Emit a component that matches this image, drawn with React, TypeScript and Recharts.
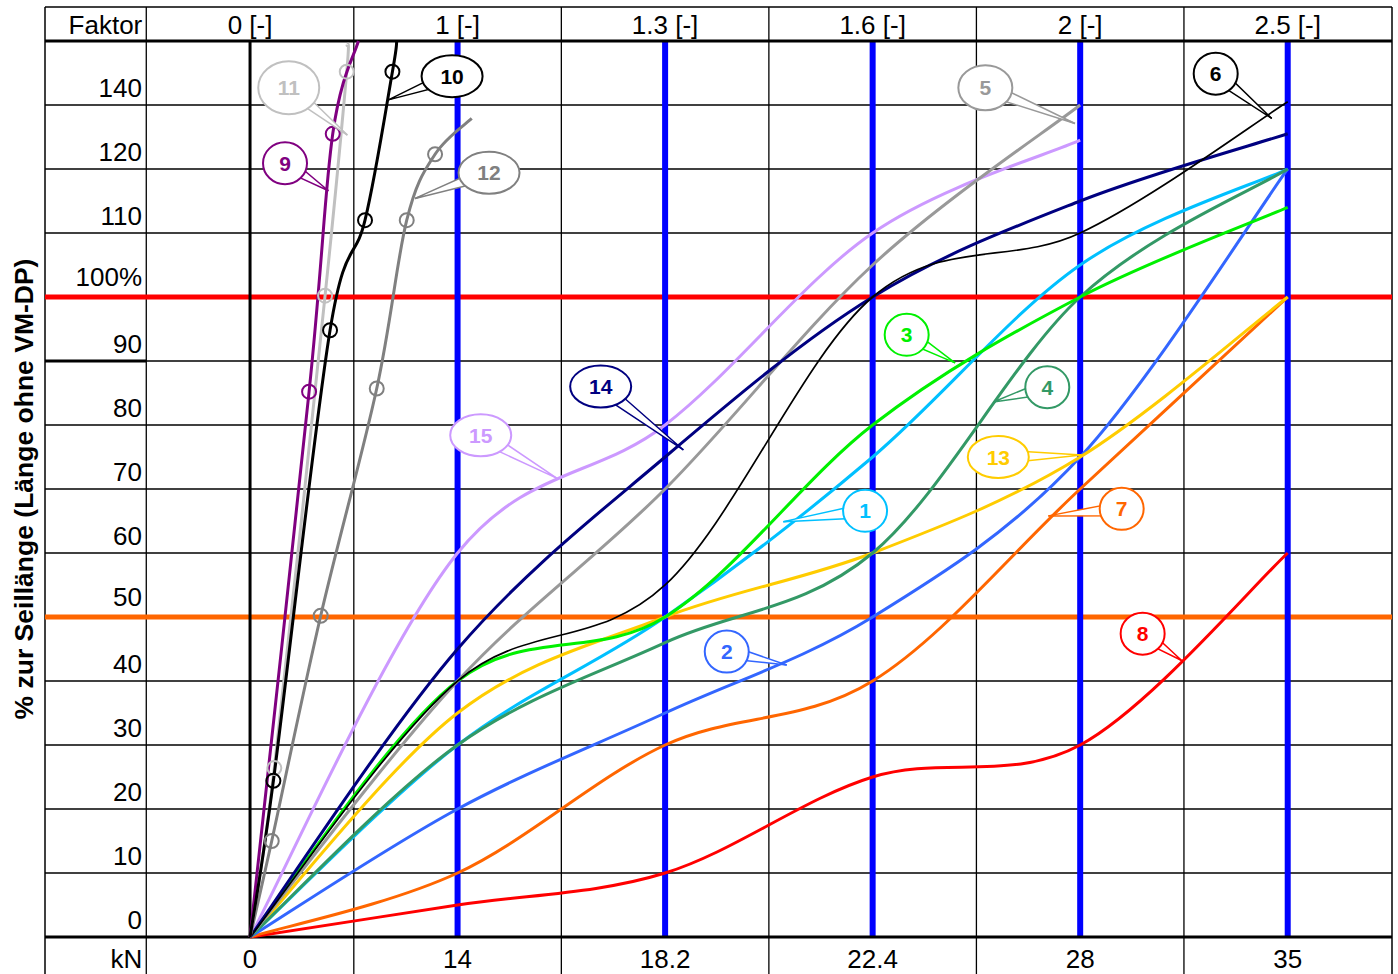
import { LineChart, Line, XAxis, YAxis, ReferenceLine } from "recharts";

// x values are column positions on the chart grid (0 = 0 kN, 2 = 14 kN ... 10 = 35 kN),
// y values are percent positions (the line labelled "140" sits at 130)
const kNPositions = [0, 2, 4, 6, 8, 10];
const headerTicks = [-1, 0, 2, 4, 6, 8, 10];
const kNLabels = ["kN", "0", "14", "18.2", "22.4", "28", "35"];
const factorLabels = ["Faktor", "0 [-]", "1 [-]", "1.3 [-]", "1.6 [-]", "2 [-]", "2.5 [-]"];
const percentTicks = [0, 10, 20, 30, 40, 50, 60, 70, 80, 90, 100, 110, 120, 130];
const percentLabels = ["0", "10", "20", "30", "40", "50", "60", "70", "80", "90", "100%", "110", "120", "140"];

// curves read at the kN positions
const curve1 = [0, 30, 50, 75, 105, 120];
const curve2 = [0, 20, 35, 50, 75, 120];
const curve3 = [0, 40, 50, 80, 100, 114];
const curve4 = [0, 30, 46, 60, 100, 120];
const curve5 = [0, 40, 70, 105, 130];
const curve6 = [0, 40, 55, 100, 110, 130.5];
const curve7 = [0, 10, 30, 40, 70, 100];
const curve8 = [0, 5, 10, 25, 30, 60];
const curve13 = [0, 35, 50, 60, 75, 100];
const curve14 = [0, 45, 75, 100, 115, 125.5];
const curve15 = [0, 60, 80, 110, 124.5];

// steep curves with measured points (circles on the inner points)
const curve9 = [[0, 0], [0.569, 85.2], [0.797, 125.5], [1.044, 140]];
const curve10 = [[0, 0], [0.225, 24.4], [0.771, 94.8], [1.108, 112], [1.372, 135.2], [1.414, 140]];
const curve11 = [[0, 0], [0.234, 26.4], [0.723, 100.2], [0.932, 135.2], [0.935, 139.4]];
const curve12 = [[0, 0], [0.209, 15], [0.681, 50.2], [1.221, 85.7], [1.51, 112], [1.783, 122.3], [2.136, 127.9]];

const gridRows = [10, 20, 30, 40, 60, 70, 80, 90, 110, 120, 130];
const gridCols = [-1, 1, 3, 5, 7, 9];

const U_MIN = -1.976;
const U_MAX = 11.005;
const V_MIN = -8.28;
const V_MAX = 145.31;

const FONT = "'Liberation Sans', Arial, sans-serif";

const COLORS: Record<string, string> = {
  "1": "#00c0ff",
  "2": "#3366ff",
  "3": "#00f000",
  "4": "#339966",
  "5": "#999999",
  "6": "#000000",
  "7": "#ff6600",
  "8": "#ff0000",
  "9": "#800080",
  "10": "#000000",
  "11": "#c0c0c0",
  "12": "#808080",
  "13": "#ffcc00",
  "14": "#000080",
  "15": "#cc99ff",
};

const toPoints = (vals: number[]) => vals.map((v, i) => ({ u: kNPositions[i], v }));
const toPairs = (pairs: number[][]) => pairs.map(([u, v]) => ({ u, v }));

const smoothSeries = [
  { id: "8", data: toPoints(curve8), width: 3 },
  { id: "7", data: toPoints(curve7), width: 3 },
  { id: "2", data: toPoints(curve2), width: 3 },
  { id: "13", data: toPoints(curve13), width: 3 },
  { id: "1", data: toPoints(curve1), width: 3 },
  { id: "4", data: toPoints(curve4), width: 3 },
  { id: "3", data: toPoints(curve3), width: 3 },
  { id: "15", data: toPoints(curve15), width: 3 },
  { id: "5", data: toPoints(curve5), width: 3 },
  { id: "14", data: toPoints(curve14), width: 3 },
  { id: "6", data: toPoints(curve6), width: 1.7 },
];

const markedSeries = [
  { id: "12", data: toPairs(curve12) },
  { id: "11", data: toPairs(curve11) },
  { id: "9", data: toPairs(curve9) },
  { id: "10", data: toPairs(curve10) },
];

// callout bubbles: centre of the bubble and the point its tail touches
const callouts = [
  { label: "1", at: [5.927, 66.6], tip: [5.139, 64.9] },
  { label: "2", at: [4.594, 44.6], tip: [5.172, 42.5] },
  { label: "3", at: [6.328, 94.1], tip: [6.794, 89.7] },
  { label: "4", at: [7.683, 85.9], tip: [7.163, 83.6] },
  { label: "5", at: [7.086, 132.7], tip: [7.95, 127.1] },
  { label: "6", at: [9.306, 134.9], tip: [9.846, 127.9] },
  { label: "7", at: [8.4, 66.9], tip: [7.693, 65.8] },
  { label: "8", at: [8.602, 47.4], tip: [8.978, 43.2] },
  { label: "9", at: [0.337, 120.9], tip: [0.755, 116.6] },
  { label: "10", at: [1.947, 134.5], tip: [1.333, 130.8] },
  { label: "11", at: [0.373, 132.7], tip: [0.938, 125.3] },
  { label: "12", at: [2.303, 119.4], tip: [1.59, 115.4] },
  { label: "13", at: [7.211, 75], tip: [8.014, 75.3] },
  { label: "14", at: [3.379, 86], tip: [4.176, 76.1] },
  { label: "15", at: [2.223, 78.4], tip: [2.955, 71.7] },
];

// a couple of bubbles are drawn a bit larger in the original
const bubbleSize: Record<string, number[]> = { "5": [27, 22.5], "11": [30.5, 26.5] };

// Excel-like smoothed line: uniform Catmull-Rom through every point
function excelSmooth(context: any) {
  let pts: number[][] = [];
  return {
    areaStart() {},
    areaEnd() {},
    lineStart() {
      pts = [];
    },
    point(x: number, y: number) {
      pts.push([+x, +y]);
    },
    lineEnd() {
      const n = pts.length;
      if (!n) return;
      context.moveTo(pts[0][0], pts[0][1]);
      for (let i = 0; i < n - 1; i++) {
        const p0 = pts[Math.max(i - 1, 0)];
        const p1 = pts[i];
        const p2 = pts[i + 1];
        const p3 = pts[Math.min(i + 2, n - 1)];
        context.bezierCurveTo(
          p1[0] + (p2[0] - p0[0]) / 6,
          p1[1] + (p2[1] - p0[1]) / 6,
          p2[0] - (p3[0] - p1[0]) / 6,
          p2[1] - (p3[1] - p1[1]) / 6,
          p2[0],
          p2[1]
        );
      }
    },
  };
}

const PercentTick = ({ x, y, payload }: any) => {
  const i = percentTicks.indexOf(payload.value);
  const v = percentTicks[i];
  const lift = v === 50 || v === 100 ? 11 : 8;
  return (
    <text x={x} y={y - lift} textAnchor="end" fontSize={26} fontFamily={FONT} fill="#000">
      {percentLabels[i]}
    </text>
  );
};

const columnText = (x: number, y: number, label: string, first: boolean) => (
  <text
    x={first ? x - 4 : x}
    y={y}
    textAnchor={first ? "end" : "middle"}
    fontSize={26}
    fontFamily={FONT}
    fill="#000"
  >
    {label}
  </text>
);

const KnTick = ({ x, y, payload }: any) => {
  const i = headerTicks.indexOf(payload.value);
  return columnText(x, y, kNLabels[i], i === 0);
};

// header row label sitting in the cell above the top frame line
const headerLabel = (i: number) => ({ viewBox }: any) =>
  columnText(viewBox.x, viewBox.y + 27, factorLabels[i], i === 0);

const AxisTitle = ({ viewBox }: any) => {
  const tx = viewBox.x - 12;
  const ty = viewBox.y + viewBox.height / 2;
  return (
    <text
      x={tx}
      y={ty}
      transform={`rotate(-90 ${tx} ${ty})`}
      textAnchor="middle"
      fontSize={26.5}
      fontWeight="bold"
      fontFamily={FONT}
      fill="#000"
    >
      % zur Seillänge (Länge ohne VM-DP)
    </text>
  );
};

const markerDot = (color: string, count: number) => (p: any) =>
  p.index > 0 && p.index < count - 1 ? (
    <circle key={`m-${p.index}`} cx={p.cx} cy={p.cy} r={7} fill="none" stroke={color} strokeWidth={2} />
  ) : (
    <g key={`m-${p.index}`} />
  );

const calloutDot = (label: string, color: string) => (p: any) => {
  if (p.index !== 0) return <g key={`c-${label}-${p.index}`} />;
  const { cx, cy } = p;
  const tip = p.points && p.points[1];
  const [rx, ry] = bubbleSize[label] || [label.length > 1 ? 30.5 : 22, 21];
  let wedge = null;
  if (tip) {
    const dx = tip.x - cx;
    const dy = tip.y - cy;
    const len = Math.hypot(dx, dy) || 1;
    const nx = (-dy / len) * 7;
    const ny = (dx / len) * 7;
    wedge = (
      <polygon
        points={`${cx + nx},${cy + ny} ${tip.x},${tip.y} ${cx - nx},${cy - ny}`}
        fill="#fff"
        stroke={color}
        strokeWidth={1.5}
      />
    );
  }
  return (
    <g key={`c-${label}`}>
      {wedge}
      <ellipse cx={cx} cy={cy} rx={rx} ry={ry} fill="#fff" stroke={color} strokeWidth={2} />
      <text
        x={cx}
        y={cy}
        dy="0.36em"
        textAnchor="middle"
        fontSize={21}
        fontWeight="bold"
        fontFamily={FONT}
        fill={color}
      >
        {label}
      </text>
    </g>
  );
};

export default function App() {
  return (
    <div style={{ position: "fixed", left: 0, top: 0, width: 1398, height: 974, overflow: "hidden", background: "#fff" }}>
      <LineChart width={1398} height={990} margin={{ top: 7, right: 6, bottom: 0, left: 45 }}>
        <XAxis
          dataKey="u"
          type="number"
          domain={[U_MIN, U_MAX]}
          allowDataOverflow
          ticks={headerTicks}
          interval={0}
          orientation="bottom"
          mirror
          axisLine={false}
          tickLine={false}
          tickSize={0}
          tickMargin={22.5}
          tick={KnTick}
        />
        <YAxis
          type="number"
          domain={[V_MIN, V_MAX]}
          allowDataOverflow
          ticks={percentTicks}
          interval={0}
          mirror
          axisLine={false}
          tickLine={false}
          tickSize={0}
          tickMargin={97}
          tick={PercentTick}
        />

        {gridRows.map((v) => (
          <ReferenceLine key={`r${v}`} y={v} stroke="#000" strokeWidth={1.3} ifOverflow="visible" />
        ))}
        {gridCols.map((u) => (
          <ReferenceLine key={`c${u}`} x={u} stroke="#000" strokeWidth={1.3} ifOverflow="visible" />
        ))}
        <ReferenceLine x={U_MIN} stroke="#000" strokeWidth={1.5} ifOverflow="visible" />
        <ReferenceLine x={U_MAX} stroke="#000" strokeWidth={1.5} ifOverflow="visible" />
        <ReferenceLine y={V_MAX} stroke="#000" strokeWidth={1.5} ifOverflow="visible" />
        {headerTicks.map((u, i) => (
          <ReferenceLine
            key={`h${u}`}
            segment={[{ x: u, y: 140 }, { x: u, y: V_MAX }]}
            stroke="none"
            ifOverflow="visible"
            label={headerLabel(i)}
          />
        ))}
        <ReferenceLine
          segment={[{ x: U_MIN, y: 0 }, { x: U_MIN, y: 140 }]}
          stroke="none"
          ifOverflow="visible"
          label={AxisTitle}
        />
        <ReferenceLine
          segment={[{ x: U_MIN, y: 90 }, { x: -1, y: 90 }]}
          stroke="#000"
          strokeWidth={3}
          ifOverflow="visible"
        />
        <ReferenceLine y={100} stroke="#ff0000" strokeWidth={5} ifOverflow="visible" />
        <ReferenceLine y={50} stroke="#ff6600" strokeWidth={5} ifOverflow="visible" />
        <ReferenceLine
          segment={[{ x: 0, y: 0 }, { x: 0, y: 140 }]}
          stroke="#000"
          strokeWidth={3}
          ifOverflow="visible"
        />
        {kNPositions.slice(1).map((u) => (
          <ReferenceLine
            key={`b${u}`}
            segment={[{ x: u, y: 0 }, { x: u, y: 140 }]}
            stroke="#0000ff"
            strokeWidth={6}
            ifOverflow="visible"
          />
        ))}
        <ReferenceLine y={140} stroke="#000" strokeWidth={3} ifOverflow="visible" />
        <ReferenceLine y={0} stroke="#000" strokeWidth={3} ifOverflow="visible" />

        {smoothSeries.map((s) => (
          <Line
            key={`s${s.id}`}
            data={s.data}
            dataKey="v"
            type={excelSmooth as any}
            stroke={COLORS[s.id]}
            strokeWidth={s.width}
            dot={false}
            activeDot={false}
            isAnimationActive={false}
          />
        ))}
        {markedSeries.map((s) => (
          <Line
            key={`m${s.id}`}
            data={s.data}
            dataKey="v"
            type={excelSmooth as any}
            stroke={COLORS[s.id]}
            strokeWidth={3}
            dot={markerDot(COLORS[s.id], s.data.length)}
            activeDot={false}
            isAnimationActive={false}
          />
        ))}
        {callouts.map((c) => (
          <Line
            key={`c${c.label}`}
            data={[
              { u: c.at[0], v: c.at[1] },
              { u: c.tip[0], v: c.tip[1] },
            ]}
            dataKey="v"
            type="linear"
            stroke={COLORS[c.label]}
            strokeWidth={1.5}
            dot={calloutDot(c.label, COLORS[c.label])}
            activeDot={false}
            isAnimationActive={false}
          />
        ))}
      </LineChart>
    </div>
  );
}
